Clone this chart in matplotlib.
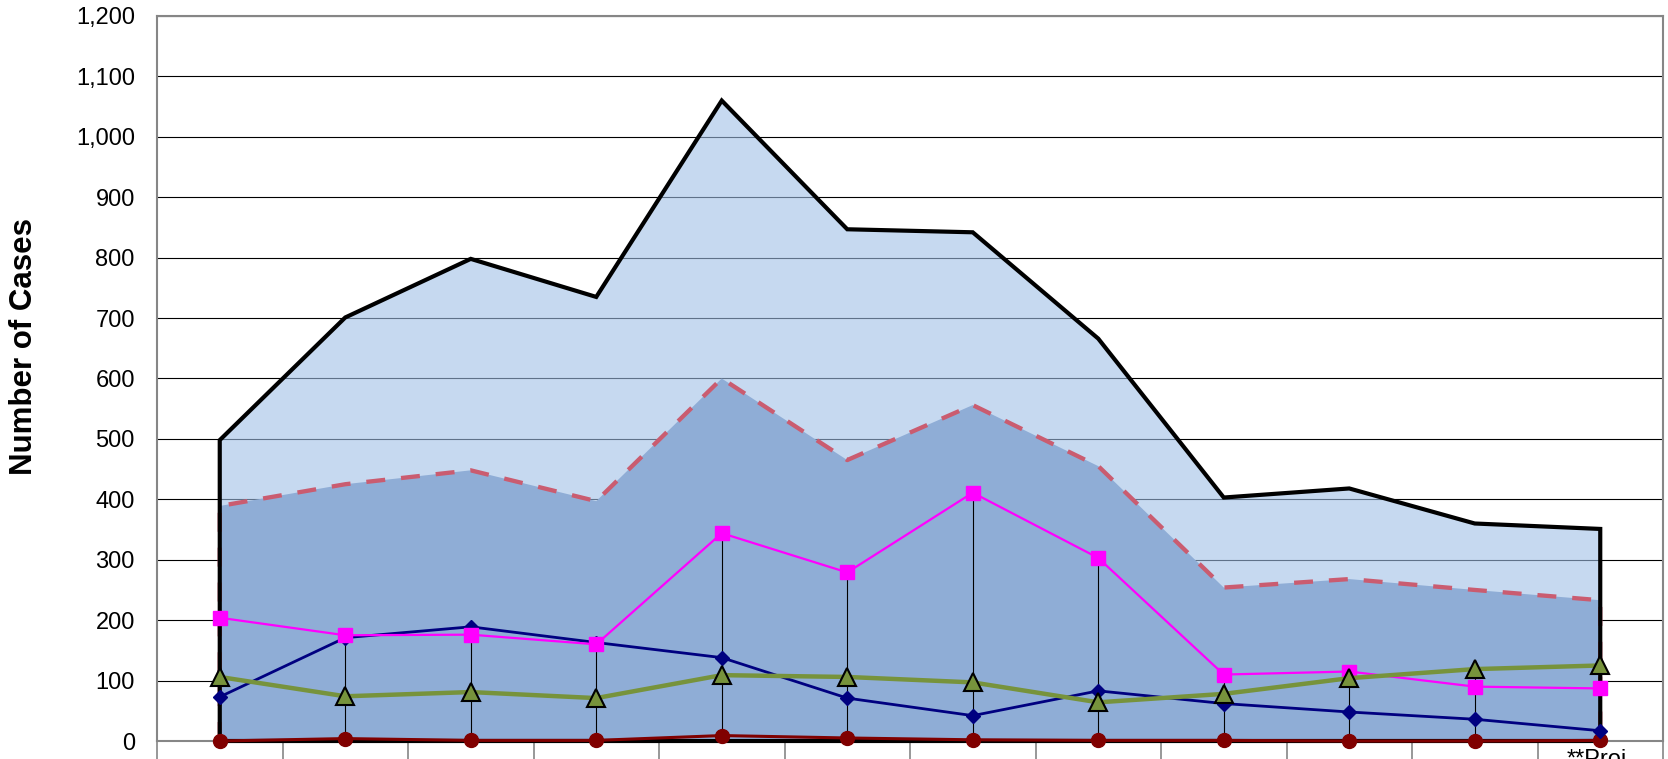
import numpy as np
import matplotlib
matplotlib.use('Agg')
from matplotlib import pyplot as plt

plt.rcParams['font.family'] = ['Liberation Sans', 'DejaVu Sans']

# data (12 categories, labels mostly cropped away)
cat_labels = ['', '', '', '', '', '', '', '', '', '', '', '**Proj.']
total = [498, 701, 798, 735, 1060, 847, 842, 666, 403, 418, 360, 351]
subtotal = [389, 425, 448, 397, 600, 465, 556, 455, 254, 268, 250, 233]
magenta_s = [204, 175, 176, 160, 344, 279, 411, 303, 110, 115, 90, 87]
navy_s = [73, 171, 189, 163, 138, 71, 42, 83, 62, 48, 36, 17]
olive_s = [106, 74, 81, 71, 109, 106, 97, 64, 78, 104, 119, 125]
red_s = [0, 4, 1, 1, 9, 5, 2, 1, 1, 0, 0, 1]
yticks = np.arange(0, 1300, 100)

x = np.arange(len(total))

fig = plt.figure(figsize=(16.68, 7.59), dpi=100)
ax = fig.add_axes([157/1668, 18/759, 1506/1668, 725/759])

# areas
ax.fill_between(x, 0, total, facecolor=(160/255, 192/255, 230/255, 0.6),
                edgecolor='none', zorder=1)
ax.fill_between(x, 0, subtotal, facecolor='#8FADD6', edgecolor='none', zorder=2)

# area outlines
ax.plot(np.r_[x[0], x, x[-1]], np.r_[0, subtotal, 0], color='#CA5C70',
        lw=3.1, dashes=(4.4, 3.7), zorder=2.5)
ax.plot(np.r_[x[0], x, x[-1], x[0]], np.r_[0, total, 0, 0], color='black',
        lw=3, solid_joinstyle='miter', zorder=3, clip_on=False)

# high-low lines across the line series
lines_all = np.array([magenta_s, navy_s, olive_s, red_s])
ax.vlines(x, lines_all.min(axis=0), lines_all.max(axis=0), color='black',
          lw=0.8, zorder=4)

ax.plot(x, red_s, color='#800000', lw=2.2, marker='o', ms=10,
        markeredgecolor='#800000', zorder=5, clip_on=False)
ax.plot(x, navy_s, color='#000080', lw=2.0, marker='D', ms=7.5,
        markeredgecolor='#000080', zorder=6, clip_on=False)
ax.plot(x, magenta_s, color='#FF00FF', lw=1.6, marker='s', ms=9.5,
        markeredgecolor='#FF00FF', zorder=7, clip_on=False)
ax.plot(x, olive_s, color='#77933C', lw=3.2, marker='^', ms=13,
        markerfacecolor='#77933C', markeredgecolor='black', markeredgewidth=1.5,
        zorder=8, clip_on=False)

# axes
ax.set_xlim(-0.5, len(total) - 0.5)
ax.set_ylim(0, 1200)
ax.set_yticks(yticks)
ax.set_yticklabels([f'{v:,}' for v in yticks], fontsize=17)
ax.tick_params(axis='y', length=0, pad=16)
ax.yaxis.grid(True, color='black', lw=0.8)
ax.set_axisbelow(True)

ax.set_xticks(np.arange(-0.5, len(total)), labels=[])
ax.set_xticks(x, labels=cat_labels, minor=True, fontsize=17)
ax.tick_params(axis='x', which='major', direction='out', length=25,
               width=1.2, color='#868686')
ax.tick_params(axis='x', which='minor', length=0, pad=6)

for s in ax.spines.values():
    s.set_color('#868686')
    s.set_linewidth(1.5)

fig.text(24/1668, 1 - 347/759, 'Number of Cases', rotation=90, fontsize=22.5,
         fontweight='bold', ha='center', va='center')

fig.savefig('out.png', dpi=100)
